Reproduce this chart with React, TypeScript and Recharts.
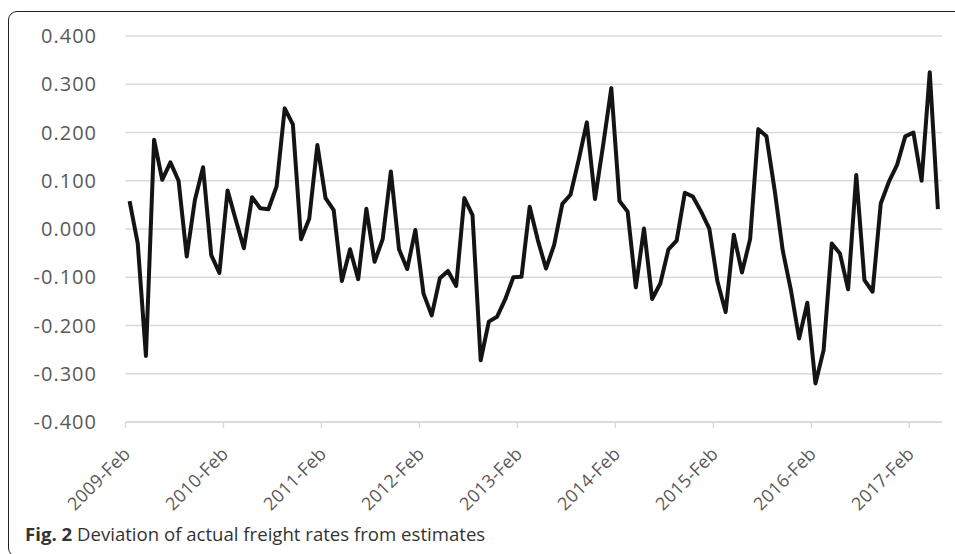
import React from 'react';
import { LineChart, Line, XAxis, YAxis, CartesianGrid } from 'recharts';

// Monthly deviation values, 2009-Feb .. 2017-May (100 months)
const deviations: number[] = [
  0.058, -0.030, -0.263, 0.185, 0.102, 0.138, 0.100, -0.057, 0.060, 0.128,
  -0.054, -0.091, 0.080, 0.019, -0.040, 0.066, 0.043, 0.041, 0.088, 0.250,
  0.217, -0.021, 0.021, 0.174, 0.064, 0.039, -0.108, -0.042, -0.104, 0.042,
  -0.068, -0.021, 0.119, -0.042, -0.083, -0.002, -0.134, -0.179, -0.102, -0.087,
  -0.118, 0.064, 0.029, -0.272, -0.192, -0.182, -0.146, -0.100, -0.099, 0.046,
  -0.023, -0.082, -0.033, 0.052, 0.071, 0.143, 0.221, 0.062, 0.174, 0.292,
  0.058, 0.036, -0.121, 0.001, -0.145, -0.113, -0.042, -0.024, 0.075, 0.067,
  0.036, 0.001, -0.109, -0.172, -0.012, -0.090, -0.021, 0.207, 0.192, 0.081,
  -0.045, -0.127, -0.227, -0.153, -0.320, -0.251, -0.030, -0.051, -0.125, 0.112,
  -0.106, -0.130, 0.053, 0.098, 0.133, 0.192, 0.200, 0.100, 0.325, 0.041,
];

const tickLabels: string[] = [
  '2009-Feb', '2010-Feb', '2011-Feb', '2012-Feb', '2013-Feb',
  '2014-Feb', '2015-Feb', '2016-Feb', '2017-Feb',
];
const tickMonthIndex: number[] = [0, 12, 24, 36, 48, 60, 72, 84, 96];
const yTicks: number[] = [-0.4, -0.3, -0.2, -0.1, 0, 0.1, 0.2, 0.3, 0.4];

const data = deviations.map((v, i) => ({ m: i + 0.5, v }));

const FONT = '"Open Sans", "Noto Sans", sans-serif';

const XTick = (props: any) => {
  const { x, y, payload } = props;
  const idx = tickMonthIndex.indexOf(payload.value);
  const label = idx >= 0 ? tickLabels[idx] : '';
  return (
    <g transform={`translate(${x + 6},${y + 25})`}>
      <text
        x={0}
        y={0}
        textAnchor="end"
        transform="rotate(-45)"
        fill="#595959"
        fontSize={18}
        letterSpacing={0.3}
        fontFamily={FONT}
      >
        {label}
      </text>
    </g>
  );
};

const YTick = (props: any) => {
  const { x, y, payload } = props;
  return (
    <text
      x={x}
      y={y}
      dy={7}
      textAnchor="end"
      fill="#595959"
      fontSize={20}
      letterSpacing={1}
      fontFamily={FONT}
    >
      {Number(payload.value).toFixed(3)}
    </text>
  );
};

export default function App() {
  return (
    <div
      style={{
        position: 'fixed',
        left: 0,
        top: 0,
        width: 955,
        height: 554,
        overflow: 'hidden',
        background: '#fff',
      }}
    >
      <div
        style={{
          position: 'absolute',
          left: 8,
          top: 10.5,
          width: 1000,
          height: 546,
          border: '1.6px solid #222',
          borderRadius: 9,
          boxSizing: 'border-box',
        }}
      />
      <div style={{ position: 'absolute', left: 0, top: 0 }}>
        <LineChart
          width={955}
          height={554}
          data={data}
          margin={{ top: 36, right: 13, bottom: 0, left: 0 }}
        >
          <CartesianGrid vertical={false} stroke="#d9d9d9" strokeWidth={1.4} />
          <XAxis
            dataKey="m"
            type="number"
            domain={[0, 100]}
            ticks={tickMonthIndex}
            interval={0}
            axisLine={{ stroke: '#d9d9d9', strokeWidth: 1.4 }}
            tickLine={{ stroke: '#d9d9d9', strokeWidth: 1.4 }}
            tickSize={6}
            tickMargin={2}
            height={132}
            tick={<XTick />}
          />
          <YAxis
            type="number"
            domain={[-0.4, 0.4]}
            ticks={yTicks}
            interval={0}
            width={125.5}
            axisLine={false}
            tickLine={false}
            tickSize={0}
            tickMargin={28.5}
            tick={<YTick />}
          />
          <Line
            type="linear"
            dataKey="v"
            stroke="#141414"
            strokeWidth={4}
            dot={false}
            strokeLinejoin="round"
            isAnimationActive={false}
          />
        </LineChart>
      </div>
      <div
        style={{
          position: 'absolute',
          left: 25,
          top: 525,
          fontFamily: FONT,
          fontSize: 18.6,
          lineHeight: '18px',
          color: '#333',
          whiteSpace: 'nowrap',
        }}
      >
        <b>Fig. 2</b> Deviation of actual freight rates from estimates
      </div>
    </div>
  );
}
